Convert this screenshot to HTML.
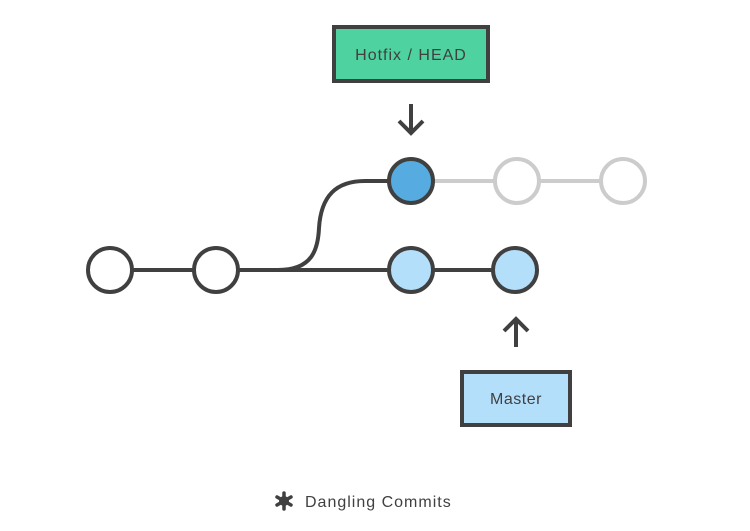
<!DOCTYPE html>
<html><head><style>body{margin:0;background:#fff}</style></head><body>
<svg width="750" height="526" viewBox="0 0 750 526" xmlns="http://www.w3.org/2000/svg" font-family="Liberation Sans, sans-serif">
<g fill="none" stroke-width="4">
<line x1="433" y1="181" x2="601" y2="181" stroke="#cccccc"/>
<path d="M110 270 H493 M250 270 H278 C312 270 318 250 319 228 C321 196 336 181 365 181 H390" stroke="#404040"/>
</g>
<g stroke-width="4">
<circle cx="517" cy="181" r="22" fill="#fff" stroke="#cccccc"/>
<circle cx="623" cy="181" r="22" fill="#fff" stroke="#cccccc"/>
<circle cx="110" cy="270" r="22" fill="#fff" stroke="#404040"/>
<circle cx="216" cy="270" r="22" fill="#fff" stroke="#404040"/>
<circle cx="411" cy="270" r="22" fill="#b4dffb" stroke="#404040"/>
<circle cx="515" cy="270" r="22" fill="#b4dffb" stroke="#404040"/>
<circle cx="411" cy="181" r="22" fill="#56ace0" stroke="#404040"/>
</g>
<rect x="334" y="27" width="154" height="54" fill="#4dd2a0" stroke="#404040" stroke-width="4"/>
<text x="411" y="60" text-anchor="middle" font-size="16" fill="#404040" letter-spacing="1">Hotfix / HEAD</text>
<rect x="462" y="372" width="108" height="53" fill="#b4dffb" stroke="#404040" stroke-width="4"/>
<text x="516" y="404" text-anchor="middle" font-size="16" fill="#404040" letter-spacing="0.5">Master</text>
<g stroke="#404040" stroke-width="4" fill="none">
<path d="M411 104 V133 M399 121 L411 133 L423 121"/>
<path d="M516 347 V319 M504 331 L516 319 L528 331"/>
</g>
<g fill="#404040" transform="translate(284,501)">
<circle r="5"/>
<g stroke="#404040" stroke-width="3.5" stroke-linecap="round">
<line x1="0" y1="-8" x2="0" y2="8"/>
<line x1="-7" y1="-4" x2="7" y2="4"/>
<line x1="-7" y1="4" x2="7" y2="-4"/>
</g>
</g>
<text x="305" y="507" font-size="16" fill="#404040" letter-spacing="1">Dangling Commits</text>
</svg>
</body></html>
